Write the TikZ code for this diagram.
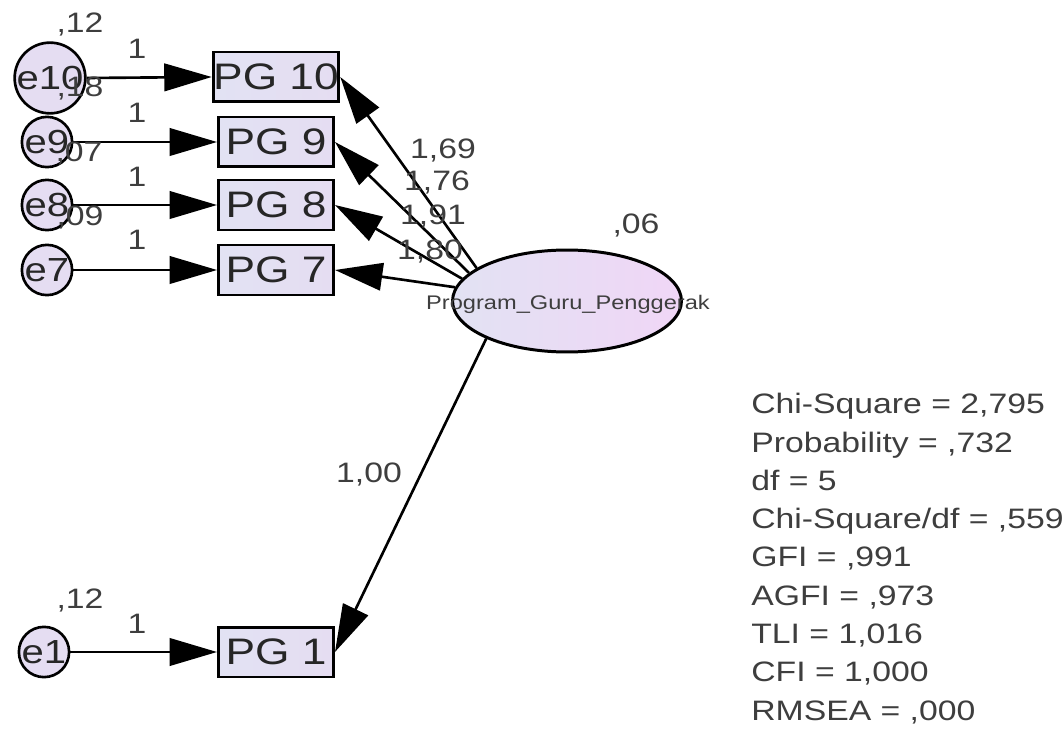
\documentclass[tikz,border=0pt]{standalone}
\usepackage{fontspec}
\setmainfont{Liberation Sans}[FakeStretch=1.2]
\usetikzlibrary{arrows.meta, positioning, shapes.geometric}

\definecolor{amosfill}{RGB}{229,221,242}
\definecolor{amosleft}{RGB}{226,226,243}
\definecolor{amosright}{RGB}{240,214,246}
\definecolor{amostext}{RGB}{62,62,62}

\begin{document}
\begin{tikzpicture}[
		x=0.02cm, y=-0.02cm,
		% Style for the observed indicators
		indicator/.style={
			draw=black, line width=1.7pt, left color=amosleft, right color=amosfill,
			minimum width=2.3cm, minimum height=1cm, inner sep=0pt,
			font=\fontsize{21}{23}\selectfont, text=black!85
		},
		% Style for the error terms
		errterm/.style={
			circle, draw=black, line width=1.5pt, fill=amosfill,
			minimum size=0.92cm, inner sep=0pt,
			font=\fontsize{19}{21}\selectfont, text=black!85
		},
		% Style for the latent construct
		latent/.style={
			ellipse, draw=black, line width=1.7pt, left color=amosleft, right color=amosright,
			minimum width=4.58cm, minimum height=2.04cm, inner sep=0pt
		},
		numlabel/.style={font=\fontsize{16}{18}\selectfont, text=amostext, inner sep=0pt},
		path/.style={-{Triangle[length=9.5mm, width=5.5mm]}, line width=1.5pt}
		]
		\useasboundingbox (0,0) rectangle (1062,733);
		
		% --- 1. INDICATORS ---
		\node[indicator] (pg10) at (276,77) {PG 10};
		\node[indicator] (pg9) at (276,142) {PG 9};
		\node[indicator] (pg8) at (276,205) {PG 8};
		\node[indicator] (pg7) at (276,270) {PG 7};
		\node[indicator] (pg1) at (276,652) {PG 1};
		
		% --- 2. ERROR TERMS ---
		\node[errterm, minimum size=1.06cm] (e10) at (50,78) {e10};
		\node[errterm] (e9) at (47,142) {e9};
		\node[errterm] (e8) at (47,205) {e8};
		\node[errterm] (e7) at (47,270) {e7};
		\node[errterm] (e1) at (44,652) {e1};
		
		% --- 3. LATENT CONSTRUCT ---
		\node[latent] (pgp) at (567,301) {};
		\node[font=\fontsize{11.2}{13}\selectfont, text=amostext, inner sep=0pt] (pgpname) at (568,304) {Program\_Guru\_Penggerak};
		\node[numlabel] (pgpvar) at (636,225) {,06};
		
		% --- ERROR PATHS ---
		\draw[path] (e10.east) -- (pg10.west);
		\draw[path] (e9.east) -- (pg9.west);
		\draw[path] (e8.east) -- (pg8.west);
		\draw[path] (e7.east) -- (pg7.west);
		\draw[path] (e1.east) -- (pg1.west);
		
		% --- LOADINGS ---
		\draw[path] (pgp.160) -- (pg10.east);
		\draw[path] (pgp.164) -- (pg9.east);
		\draw[path] (pgp.168) -- (pg8.east);
		\draw[path] (pgp.173) -- (pg7.east);
		\draw[path] (pgp.205) -- (pg1.east);
		
		% --- ESTIMATES ---
		\node[numlabel] (v10) at (80,24) {,12};
		\node[numlabel] (v9) at (80,88) {,18};
		\node[numlabel] (v8) at (79,153) {,07};
		\node[numlabel] (v7) at (80,217) {,09};
		\node[numlabel] (v1) at (80,600) {,12};
		\node[numlabel] (w10) at (137,49) {1};
		\node[numlabel] (w9) at (137,113) {1};
		\node[numlabel] (w8) at (137,177) {1};
		\node[numlabel] (w7) at (137,240) {1};
		\node[numlabel] (w1) at (137,624) {1};
		\node[numlabel] (l10) at (443,150) {1,69};
		\node[numlabel] (l9) at (437,182) {1,76};
		\node[numlabel] (l8) at (433,216) {1,91};
		\node[numlabel] (l7) at (430,251) {1,80};
		\node[numlabel] (l1) at (369,474) {1,00};
		
		% --- FIT INDICES ---
		\node[anchor=north west, align=left, inner sep=0pt, text=amostext,
			font=\fontsize{16}{21.8}\selectfont] (fit) at (751,393) {%
			Chi-Square = 2,795\\
			Probability = ,732\\
			df = 5\\
			Chi-Square/df = ,559\\
			GFI = ,991\\
			AGFI = ,973\\
			TLI = 1,016\\
			CFI = 1,000\\
			RMSEA = ,000};
		
	\end{tikzpicture}
\end{document}
